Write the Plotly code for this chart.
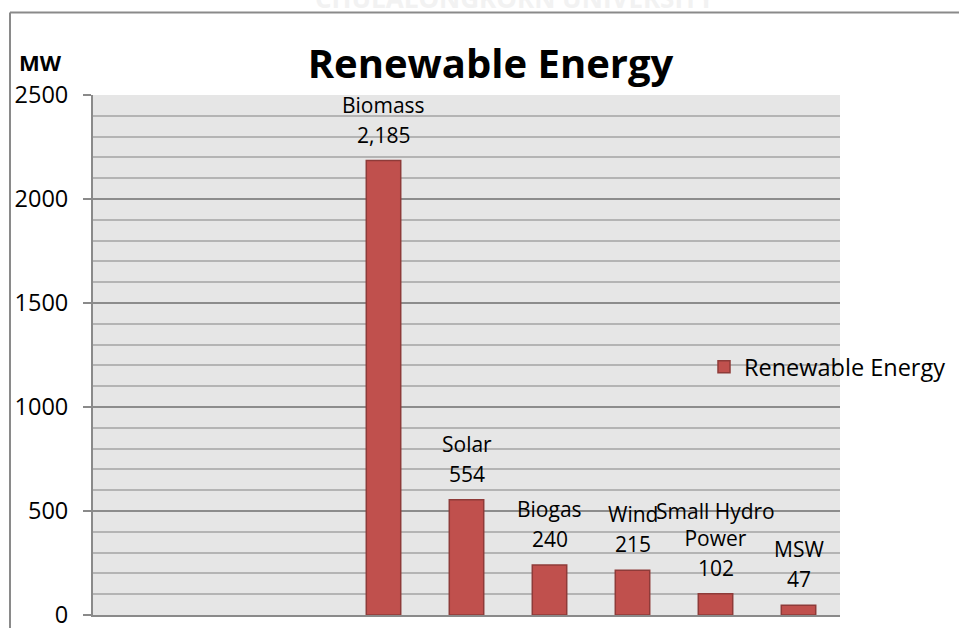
import plotly.graph_objects as go

# ---- data ----
categories = [" ", "  ", "   ", "Biomass", "Solar", "Biogas", "Wind", "Small Hydro Power", "MSW"]
values = [None, None, None, 2185, 554, 240, 215, 102, 47]
label_names = ["", "", "", "Biomass", "Solar", "Biogas", "Wind", "Small Hydro<br>Power", "MSW"]
y_ticks = [0, 500, 1000, 1500, 2000, 2500]
series_name = "Renewable Energy"
title_text = "Renewable Energy"
unit_text = "MW"
watermark = "CHULALONGKORN UNIVERSITY"

FONT = "Open Sans"
W, H = 959, 628
ML, MR, MT, MB = 93, 119, 95, 13
PW, PH = W - ML - MR, H - MT - MB


def px_x(fx):
    return (fx - ML) / PW


def px_y(fy):
    return (H - MB - fy) / PH


fig = go.Figure()
fig.add_trace(go.Bar(
    x=categories, y=values, name=series_name,
    marker=dict(color="#c0504d", line=dict(color="#8e3b39", width=1.5)),
    showlegend=True,
))

annotations = []
for c, v, n in zip(categories, values, label_names):
    if v is None:
        continue
    annotations.append(dict(
        x=c, y=v, xref="x", yref="y",
        text=f"{v:,}", showarrow=False,
        yanchor="bottom", xanchor="center", yshift=10,
        font=dict(family=FONT, size=21, color="black"),
    ))
    annotations.append(dict(
        x=c, y=v, xref="x", yref="y",
        text=n, showarrow=False,
        yanchor="bottom", xanchor="center", yshift=40,
        font=dict(family=FONT, size=21, color="black"),
    ))

# unit label
annotations.append(dict(
    x=px_x(17), y=px_y(62), xref="paper", yref="paper",
    text=f"<b>{unit_text}</b>", showarrow=False, xanchor="left", yanchor="middle",
    font=dict(family=FONT, size=22, color="black"),
))
# watermark (cut off by page top, as in the original)
annotations.append(dict(
    x=px_x(515), y=px_y(12), xref="paper", yref="paper",
    text=f"<b>{watermark}</b>", showarrow=False, xanchor="center", yanchor="bottom",
    yshift=-6,
    font=dict(family=FONT, size=26, color="#f2f2f2"),
))

fig.update_layout(
    width=W, height=H,
    margin=dict(l=ML, r=MR, t=MT, b=MB, pad=0, autoexpand=False),
    paper_bgcolor="white", plot_bgcolor="#e6e6e6",
    bargap=0.585,
    title=dict(text=f"<b>{title_text}</b>", x=490.5 / W, xanchor="center",
               y=1 - 64 / H, yanchor="middle", yref="container",
               font=dict(family=FONT, size=40, color="black")),
    font=dict(family=FONT, color="black"),
    legend=dict(x=px_x(704), xanchor="left", y=px_y(367),
                yanchor="middle", font=dict(family=FONT, size=23.5, color="black"),
                bgcolor="rgba(0,0,0,0)", borderwidth=0),
    annotations=annotations,
    xaxis=dict(showticklabels=False, showgrid=False, zeroline=False, ticks="",
               showline=True, linecolor="#8a8a8a", linewidth=2, automargin=False,
               categoryorder="array", categoryarray=categories),
    yaxis=dict(range=[0, 2500], tickvals=y_ticks, ticks="outside", ticklen=8,
               tickcolor="#8a8a8a", tickwidth=2, automargin=False,
               showline=True, linecolor="#8a8a8a", linewidth=2,
               showgrid=True, gridcolor="#8c8c8c", gridwidth=2, zeroline=False,
               tickfont=dict(family=FONT, size=23.5, color="black"),
               ticklabelstandoff=10, ticklabeloverflow="allow",
               minor=dict(dtick=100, showgrid=True, gridcolor="#b4b4b4", gridwidth=2, ticks="")),
    shapes=[
        dict(type="line", xref="paper", yref="paper",
             x0=px_x(10), x1=px_x(W), y0=px_y(12.5), y1=px_y(12.5),
             line=dict(color="#8a8a8a", width=2), layer="above"),
        dict(type="line", xref="paper", yref="paper",
             x0=px_x(10), x1=px_x(10), y0=px_y(12.5), y1=px_y(H),
             line=dict(color="#8a8a8a", width=2), layer="above"),
    ],
)

fig.write_html("out.html")
